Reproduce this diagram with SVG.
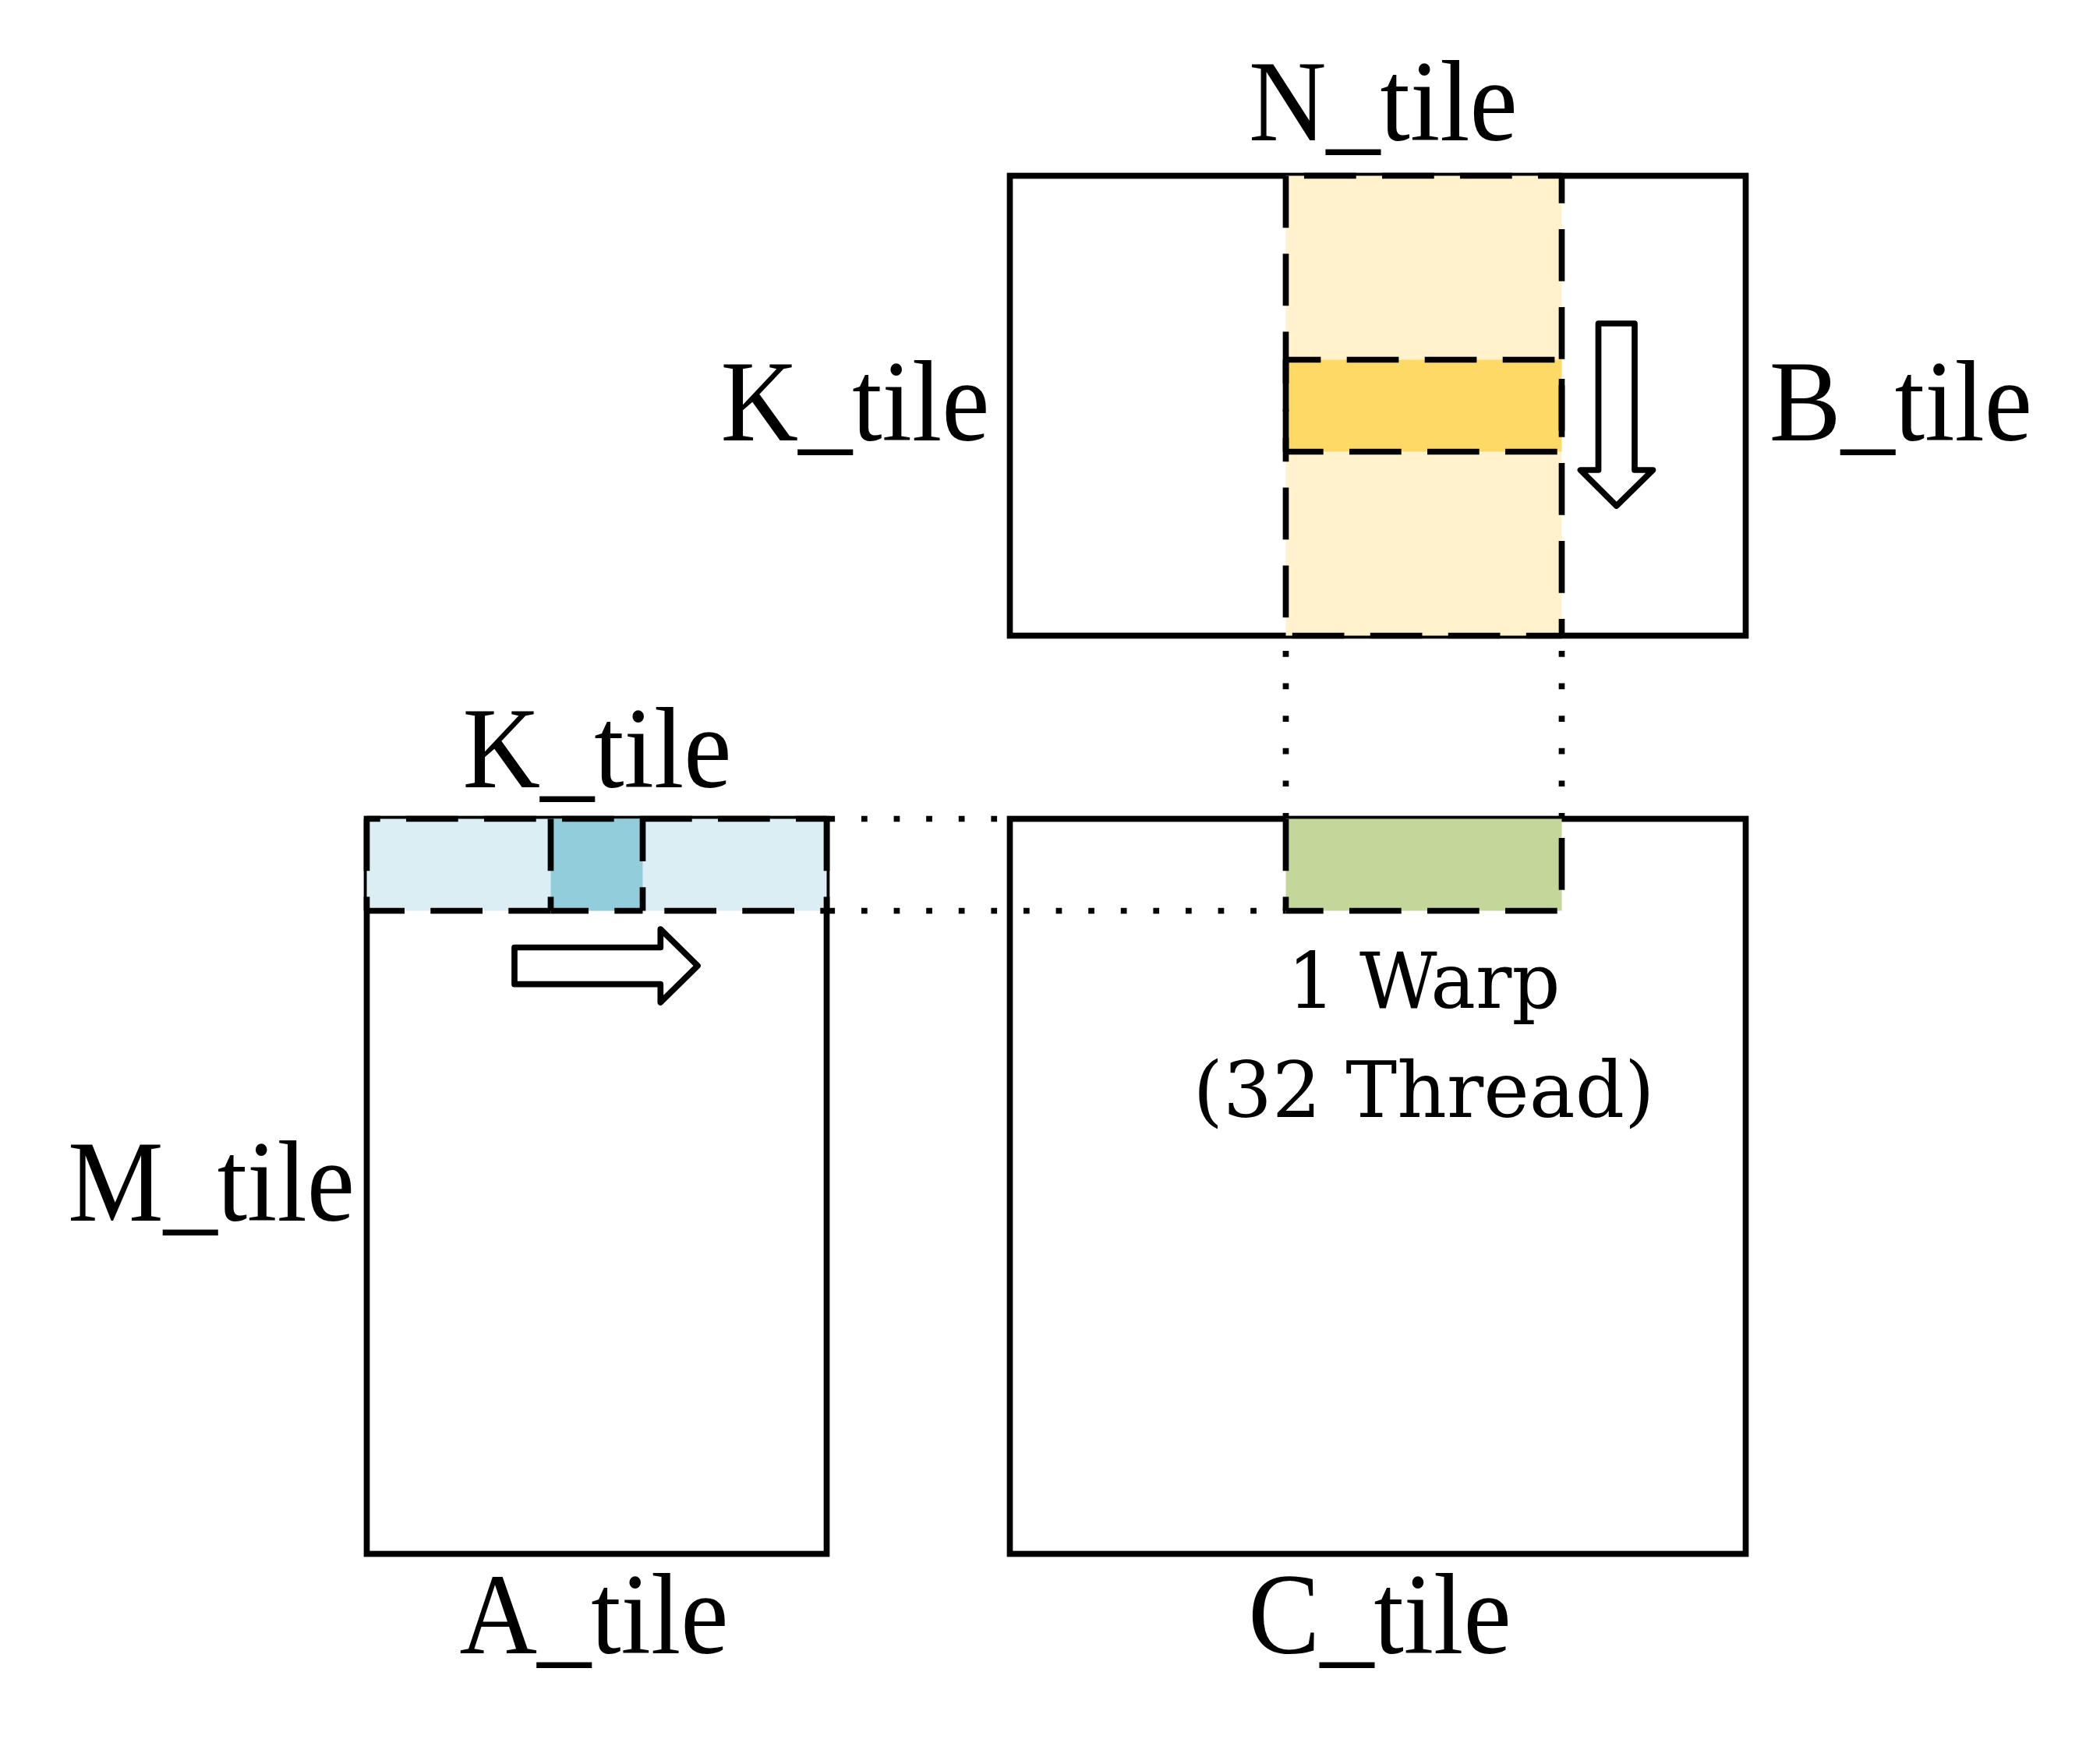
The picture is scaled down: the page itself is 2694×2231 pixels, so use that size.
<svg xmlns="http://www.w3.org/2000/svg" width="2694" height="2231" viewBox="0 0 2694 2231">
<style>
.box{fill:#FFFFFF;stroke:#000000;stroke-width:7.7}
.dash{fill:none;stroke:#000000;stroke-width:7.7;stroke-dasharray:66.7 33.3}
.dot{fill:none;stroke:#000000;stroke-width:7.7;stroke-dasharray:7.7 33.9}
.arrow{fill:#FFFFFF;stroke:#000000;stroke-width:7.7;stroke-linejoin:round}
.lbl{font-family:"Liberation Serif","Times New Roman",serif;font-size:138px;fill:#000000;text-anchor:middle}
.warp{font-family:"DejaVu Serif","Liberation Serif",serif;font-size:100px;fill:#000000;text-anchor:middle}
</style>
<rect width="2694" height="2231" fill="#FFFFFF"/>

<g id="B_tile">
  <rect class="box" x="1295.5" y="225.5" width="944" height="590"/>
  <rect x="1649.5" y="225.5" width="354" height="590" fill="#FFF2CC"/>
  <rect x="1649.5" y="461.5" width="354" height="118" fill="#FFD966"/>
  <line class="dash" x1="1649.5" y1="225.5" x2="2003.5" y2="225.5" stroke-dashoffset="76.5"/>
  <line class="dash" x1="2003.5" y1="225.5" x2="2003.5" y2="815.5" stroke-dashoffset="31.5"/>
  <line class="dash" x1="1649.5" y1="815.5" x2="2003.5" y2="815.5" stroke-dashoffset="91.7"/>
  <line class="dash" x1="1649.5" y1="225.5" x2="1649.5" y2="815.5"/>
  <line class="dash" x1="1649.5" y1="461.5" x2="2003.5" y2="461.5" stroke-dashoffset="21.8"/>
  <line class="dash" x1="1649.5" y1="579.5" x2="2003.5" y2="579.5" stroke-dashoffset="18.5"/>
  <line class="dash" x1="1649.5" y1="461.5" x2="1649.5" y2="579.5"/>
  <line class="dash" x1="2003.5" y1="461.5" x2="2003.5" y2="579.5" stroke-dashoffset="75.5"/>
  <path class="arrow" d="M2050.5,415 L2097,415 L2097,603 L2120.5,603 L2073.7,649 L2027.5,603 L2050.5,603 Z"/>
  <text class="lbl" transform="translate(1774.4,180) scale(1,1.077)">N_tile</text>
  <text class="lbl" transform="translate(1097,565) scale(1,1.077)">K_tile</text>
  <text class="lbl" transform="translate(2438.4,565) scale(1,1.077)">B_tile</text>
</g>

<g id="A_tile">
  <rect class="box" x="470.5" y="1050.5" width="590" height="943"/>
  <rect x="470.5" y="1050.5" width="590" height="118" fill="#DAEEF3"/>
  <rect x="706.5" y="1050.5" width="118" height="118" fill="#92CDDC"/>
  <line class="dash" x1="470.5" y1="1050.5" x2="1060.5" y2="1050.5" stroke-dashoffset="49.5"/>
  <line class="dash" x1="470.5" y1="1168.5" x2="706.5" y2="1168.5" stroke-dashoffset="18.2"/>
  <line class="dash" x1="706.5" y1="1168.5" x2="824.5" y2="1168.5" stroke-dashoffset="18.2"/>
  <line class="dash" x1="824.5" y1="1168.5" x2="1060.5" y2="1168.5" stroke-dashoffset="72.2"/>
  <line class="dash" x1="470.5" y1="1050.5" x2="470.5" y2="1168.5"/>
  <line class="dash" x1="1060.5" y1="1050.5" x2="1060.5" y2="1168.5"/>
  <line class="dash" x1="706.5" y1="1050.5" x2="706.5" y2="1168.5"/>
  <line class="dash" x1="824.5" y1="1050.5" x2="824.5" y2="1168.5" stroke-dashoffset="12.2"/>
  <path class="arrow" d="M660,1215.5 L847.3,1215.5 L847.3,1192 L895,1239 L847.3,1286 L847.3,1262.7 L660,1262.7 Z"/>
  <text class="lbl" transform="translate(766,1010) scale(1,1.077)">K_tile</text>
  <text class="lbl" transform="translate(271,1566) scale(1,1.077)">M_tile</text>
  <text class="lbl" transform="translate(762,2120.7) scale(1,1.077)">A_tile</text>
</g>

<g id="C_tile">
  <rect class="box" x="1295.5" y="1050.5" width="944" height="943"/>
  <rect x="1649.5" y="1050.5" width="354" height="118" fill="#C4D79B"/>
  <line class="dash" x1="1649.5" y1="1050.5" x2="1649.5" y2="1168.5"/>
  <line class="dash" x1="2003.5" y1="1050.5" x2="2003.5" y2="1168.5" stroke-dashoffset="75.5"/>
  <line class="dash" x1="1649.5" y1="1168.5" x2="2003.5" y2="1168.5" stroke-dashoffset="18.5"/>
  <text class="warp" x="1826.5" y="1293" textLength="350" lengthAdjust="spacingAndGlyphs">1 Warp</text>
  <text class="warp" x="1826.5" y="1433" textLength="592" lengthAdjust="spacingAndGlyphs">(32 Thread)</text>
  <text class="lbl" transform="translate(1770,2121) scale(1,1.077)">C_tile</text>
</g>

<g id="connectors">
  <line class="dot" x1="1649.5" y1="835" x2="1649.5" y2="1050"/>
  <line class="dot" x1="2003.5" y1="835" x2="2003.5" y2="1050"/>
  <line class="dot" x1="1063.4" y1="1050.5" x2="1295" y2="1050.5"/>
  <line class="dot" x1="1063.4" y1="1168.5" x2="1649.5" y2="1168.5"/>
</g>
</svg>
